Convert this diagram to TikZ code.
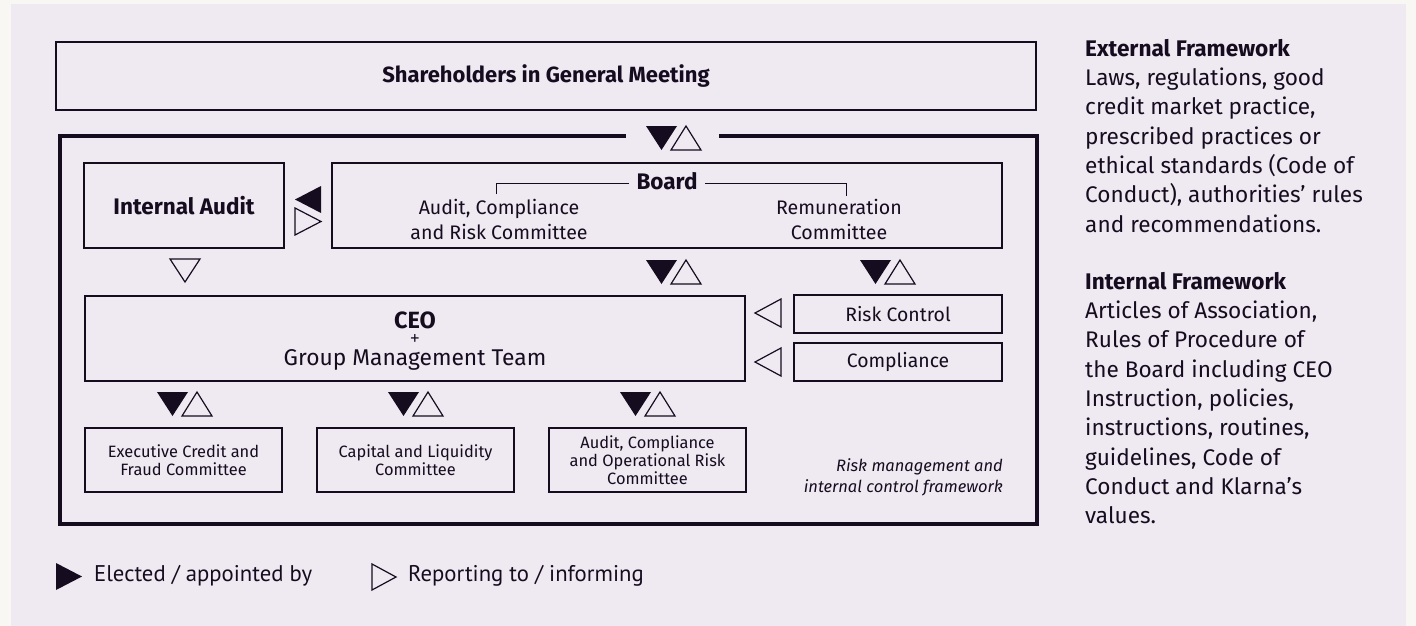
\documentclass[tikz,border=0pt]{standalone}
\usepackage{fontspec}
\setmainfont{Fira Sans}
\newfontfamily\legfont{PT Sans}
\definecolor{lav}{RGB}{239,233,241}
\definecolor{ink}{RGB}{22,12,32}
\definecolor{paper}{RGB}{248,247,243}
\newcommand\fsz[2]{\fontsize{#1}{#2}\selectfont}
\tikzset{
 box/.style={draw=ink, line width=1.2pt, rectangle, inner sep=0pt, text=ink, align=center},
 txt/.style={inner sep=0pt, text=ink, align=center},
 hollow/.style={draw=ink, line width=1.2pt, line join=miter, fill=lav},
 electpair/.pic={
   \fill[ink] (0,0) -- (31,0) -- (15.5,24) -- cycle;
   \draw[ink, line width=1.2pt, line join=miter] (25,24) -- (55,24) -- (40,0) -- cycle;
 }
}
\begin{document}
\begin{tikzpicture}[x=1pt,y=-1pt]
\useasboundingbox (0,0) rectangle (1416,626);
\fill[paper] (0,0) rectangle (1416,626);
\fill[lav] (11,4) rectangle (1406,626);

% shareholders
\node[box, minimum width=980pt, minimum height=68pt, font=\bfseries\fsz{22}{26}] (share) at (546,76) {Shareholders in General Meeting};

% framework frame
\draw[ink, line width=4pt] (626,136) -- (60,136) -- (60,524) -- (1037,524) -- (1037,136) -- (719,136);
\pic at (646,126) {electpair};

% internal audit and board
\node[box, minimum width=200pt, minimum height=85pt, font=\bfseries\fsz{22.5}{26}] (audit) at (184,205.5) {Internal Audit};
\node[box, minimum width=670pt, minimum height=85pt] (board) at (667,205.5) {};
\draw[ink, line width=1pt] (496,194) -- (496,183.5) -- (846,183.5) -- (846,196);
\node[txt, fill=lav, inner xsep=8pt, font=\bfseries\fsz{22.5}{26}] (boardlbl) at (667,181) {Board};
\node[txt, font=\fsz{19.6}{25}, anchor=north] (acrc) at (499,199) {Audit, Compliance\\and Risk Committee};
\node[txt, font=\fsz{19.6}{25}, anchor=north] (remu) at (839,199) {Remuneration\\Committee};

\fill[ink] (321,186) -- (321,213) -- (295,199.5) -- cycle;
\draw[hollow] (295,208) -- (295,235) -- (321,221.5) -- cycle;
\draw[hollow] (170,259) -- (200,259) -- (185,282) -- cycle;
\pic at (646,260) {electpair};
\pic at (860,260) {electpair};

% CEO
\node[box, minimum width=660pt, minimum height=85pt] (ceo) at (415,338.5) {};
\node[txt, anchor=base, font=\bfseries\fsz{23.5}{26}] (ceot) at (415,328) {CEO};
\node[txt, font=\legfont\fsz{18}{20}] (plus) at (415,339.5) {+};
\node[txt, anchor=base, font=\fsz{22.8}{26}] (gmt) at (415,365) {Group Management Team};

% risk control, compliance
\node[box, minimum width=208pt, minimum height=38pt, font=\fsz{19.4}{22}] (risk) at (898,314) {Risk Control};
\node[box, minimum width=208pt, minimum height=38pt, font=\fsz{19.4}{22}] (compl) at (898,362) {Compliance};
\draw[hollow] (781,299) -- (781,327) -- (755,313) -- cycle;
\draw[hollow] (781,348) -- (781,376) -- (755,362) -- cycle;

% committees
\pic at (157,392) {electpair};
\pic at (388,392) {electpair};
\pic at (620,392) {electpair};
\node[box, minimum width=197pt, minimum height=64pt, font=\fsz{16.4}{18}] (exec) at (183.5,460) {Executive Credit and\\Fraud Committee};
\node[box, minimum width=197pt, minimum height=64pt, font=\fsz{16.4}{18}] (capital) at (415.5,460) {Capital and Liquidity\\Committee};
\node[box, minimum width=197pt, minimum height=64pt, font=\fsz{16.4}{18}] (auditops) at (647.5,460) {Audit, Compliance\\and Operational Risk\\Committee};
\node[txt, align=right, anchor=north east, font=\itshape\fsz{16.5}{21}] (rmicf) at (1003,458) {Risk management and\\internal control framework};

% legend
\fill[ink] (56,563) -- (56,590) -- (82,576.5) -- cycle;
\node[txt, anchor=west, font=\legfont\fsz{22.7}{26}] (leg1) at (94,576) {Elected / appointed by};
\draw[hollow] (372,564) -- (372,590) -- (396,577) -- cycle;
\node[txt, anchor=west, font=\legfont\fsz{22.7}{26}] (leg2) at (408,576) {Reporting to / informing};

% right column
\node[txt, align=left, anchor=north west, font=\fsz{22.6}{29.3}] (ext) at (1085,39) {\textbf{External Framework}\\Laws, regulations, good\\credit market practice,\\prescribed practices or\\ethical standards (Code of\\Conduct), authorities’ rules\\and recommendations.};
\node[txt, align=left, anchor=north west, font=\fsz{22.6}{29.3}] (int) at (1085,272) {\textbf{Internal Framework}\\Articles of Association,\\Rules of Procedure of\\the Board including CEO\\Instruction, policies,\\instructions, routines,\\guidelines, Code of\\Conduct and Klarna’s\\values.};
\end{tikzpicture}
\end{document}
